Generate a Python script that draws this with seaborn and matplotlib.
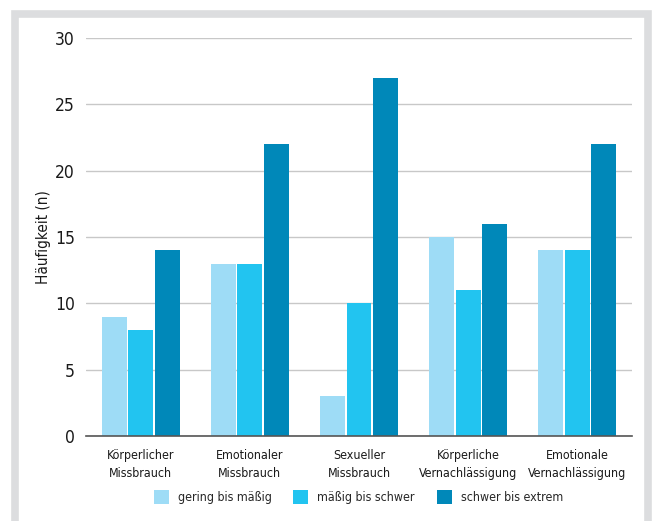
import matplotlib
matplotlib.use("Agg")
import matplotlib.pyplot as plt
import seaborn as sns
import pandas as pd
from matplotlib.patches import Rectangle, Patch
from matplotlib import font_manager

categories = ["Körperlicher\nMissbrauch", "Emotionaler\nMissbrauch", "Sexueller\nMissbrauch",
              "Körperliche\nVernachlässigung", "Emotionale\nVernachlässigung"]
series = ["gering bis mäßig", "mäßig bis schwer", "schwer bis extrem"]
gering = [9, 13, 3, 15, 14]
maessig = [8, 13, 10, 11, 14]
schwer = [14, 22, 27, 16, 22]
yticks = [0, 5, 10, 15, 20, 25, 30]
colors = ["#9edcf6", "#22c4f0", "#0088b9"]

rows = []
for s, vals in zip(series, [gering, maessig, schwer]):
    for c, v in zip(categories, vals):
        rows.append({"Kategorie": c, "Schwere": s, "n": v})
df = pd.DataFrame(rows)

sns.set_theme(style="white")

# look for a condensed face
cond = None
for f in font_manager.fontManager.ttflist:
    nm = (f.name + " " + f.fname).lower()
    if ("condensed" in nm or "narrow" in nm) and f.style == "normal":
        cond = f
        break
if cond is not None:
    fam = cond.name
    stretch = cond.stretch
    scale = 1.0
else:
    fam = "Liberation Sans"
    stretch = "normal"
    scale = 0.85
plt.rcParams['font.family'] = [fam, 'DejaVu Sans']
plt.rcParams['font.stretch'] = stretch

fig = plt.figure(figsize=(6.55, 5.21), dpi=100)
fig.patches.append(Rectangle((14.5/655, -0.05), (648-14.5)/655, (521-14)/521 + 0.05,
                             transform=fig.transFigure, fill=False, edgecolor="#dcdddf",
                             linewidth=5.5, zorder=0))
ax = fig.add_axes([86/655, 1 - 436/521, (632-86)/655, (436-38)/521])

sns.barplot(data=df, x="Kategorie", y="n", hue="Schwere", palette=colors,
            width=0.73, gap=0.06, ax=ax, legend=False, saturation=1, linewidth=0)

ax.set_xlim(-0.5, 4.5)
ax.set_ylim(0, 30)
ax.set_yticks(yticks)
ax.set_yticklabels([str(t) for t in yticks], fontsize=12.5 * scale, color="#1a1a1a")
ax.yaxis.grid(True, color="#c8c8c8", linewidth=1)
ax.set_axisbelow(True)
for s in ["top", "right", "left"]:
    ax.spines[s].set_visible(False)
ax.spines["bottom"].set_color("#555555")
ax.spines["bottom"].set_linewidth(1.2)
ax.spines["bottom"].set_zorder(5)
ax.tick_params(axis="y", length=0, pad=8)
ax.tick_params(axis="x", length=0, pad=9.5)
for lbl in ax.get_xticklabels():
    lbl.set_fontsize(8.9 * scale)
    lbl.set_color("#1a1a1a")
    lbl.set_linespacing(1.45)
ax.set_xlabel("")
ax.set_ylabel("Häufigkeit (n)", fontsize=11 * scale, color="#1a1a1a", labelpad=3)

handles = [Patch(facecolor=c, edgecolor="none") for c in colors]
fig.legend(handles, series, loc="center", bbox_to_anchor=(0.547, 1 - 497/521), ncol=3,
           frameon=False, fontsize=8.95 * scale, handlelength=1.2, handleheight=1.3,
           handletextpad=0.72, columnspacing=1.77)

fig.savefig("out.png", dpi=100)
